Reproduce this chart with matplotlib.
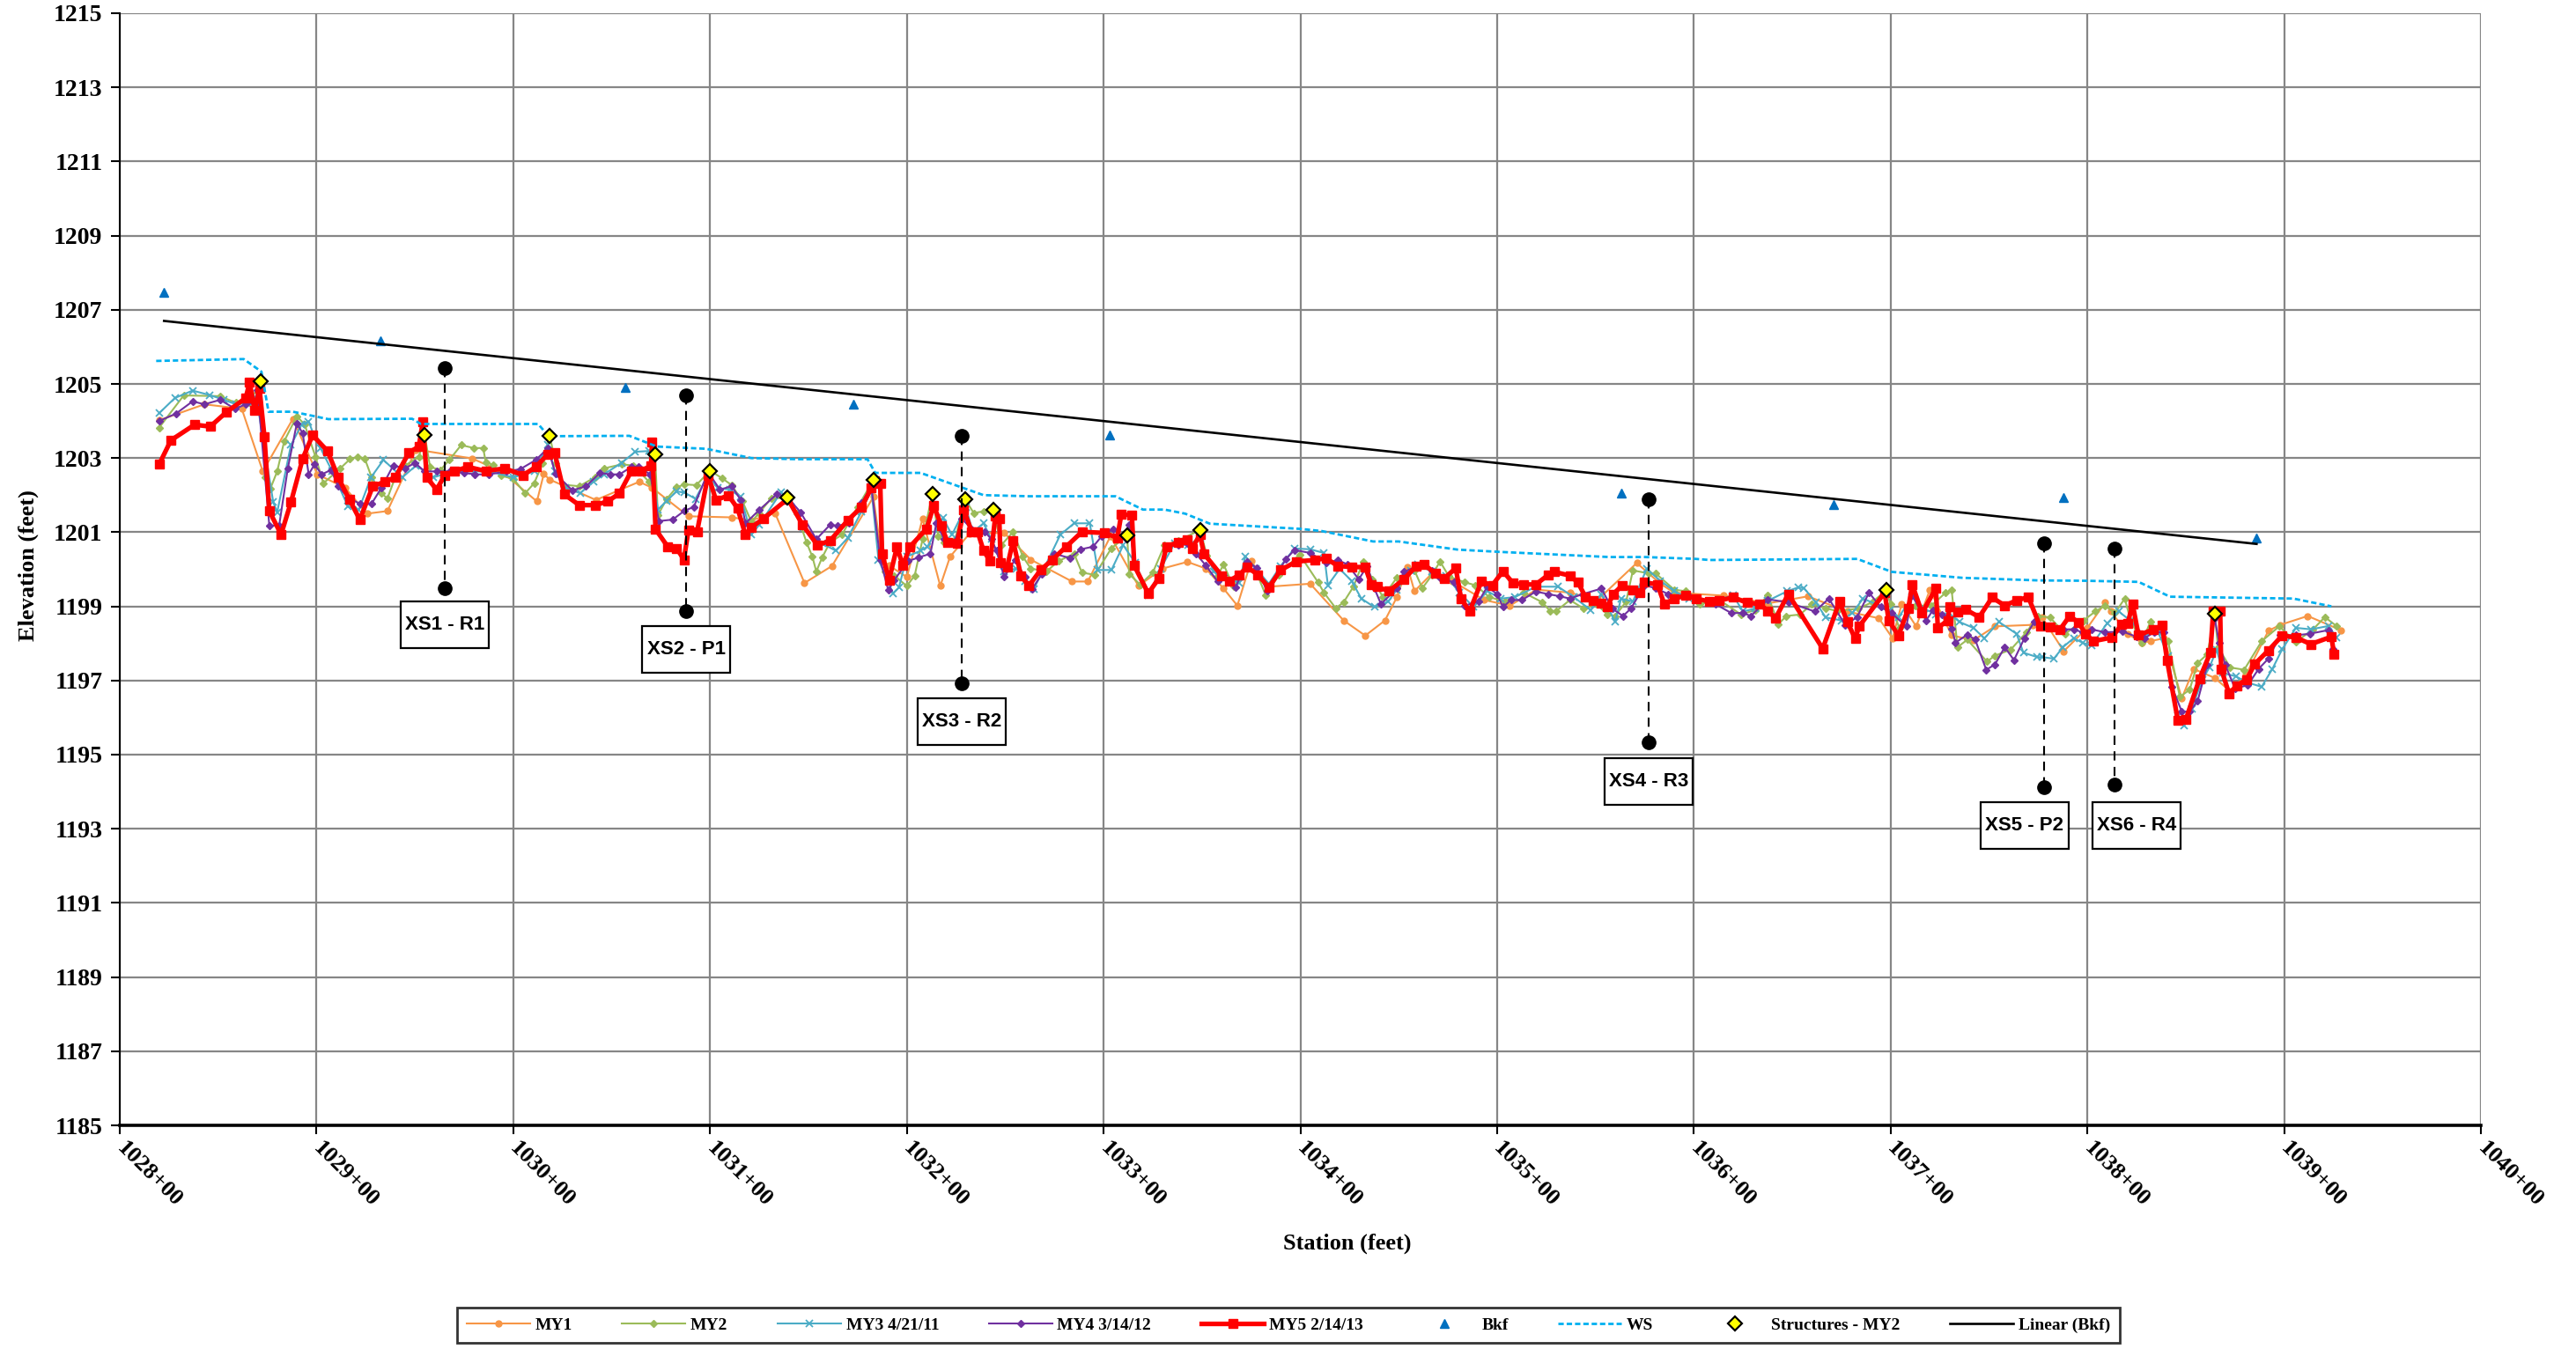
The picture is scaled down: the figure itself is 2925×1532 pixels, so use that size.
import numpy as np
import matplotlib
matplotlib.use("Agg")
import matplotlib.pyplot as plt
from matplotlib import font_manager as fm
from matplotlib.patches import Rectangle
from matplotlib.transforms import ScaledTranslation

# ---------------- survey data (station in feet, elevation in feet) ----------------
my1_sta = [102820, 102843, 102862, 102872.7, 102888, 102900.4, 102914.5, 102925.6, 102936, 102950.6,
           102979, 102994, 103012, 103015.5, 103018.5, 103042, 103064, 103070.5, 103089, 103111,
           103121, 103133, 103148, 103162, 103183, 103187.4, 103191, 103200, 103208, 103217,
           103222, 103232, 103249.5, 103263, 103284, 103292, 103303.5, 103317.7, 103330, 103342.6,
           103352, 103361, 103368, 103375, 103384, 103405, 103422, 103433, 103443, 103449,
           103454.5, 103458, 103467, 103477, 103493.5, 103506.5, 103520, 103537, 103551, 103571,
           103583, 103590, 103615, 103637.6, 103658, 103678, 103694, 103701, 103705.6, 103713,
           103720, 103731, 103742, 103753, 103772, 103777, 103788, 103800, 103809, 103812,
           103820.5, 103827.6, 103832, 103839, 103848, 103854, 103864.7, 103872.6, 103880.6, 103892,
           103898, 103912, 103928.8]
my1_elev = [1204.02, 1204.45, 1204.33, 1202.64, 1204.06, 1202.56, 1202.20, 1201.50, 1201.57, 1203.23,
            1202.99, 1202.64, 1201.83, 1202.57, 1202.42, 1201.87, 1202.36, 1202.20, 1201.43, 1201.40,
            1201.32, 1201.52, 1199.63, 1200.09, 1201.95, 1200.26, 1200.10, 1199.79, 1201.36, 1199.55,
            1200.34, 1200.97, 1200.98, 1200.26, 1199.67, 1199.67, 1200.89, 1199.55, 1200.02, 1200.20,
            1200.02, 1199.48, 1199.02, 1200.22, 1199.53, 1199.61, 1198.62, 1198.21, 1198.62, 1199.24,
            1200.06, 1199.41, 1199.89, 1199.69, 1199.17, 1199.02, 1199.45, 1199.37, 1199.17, 1200.17,
            1199.61, 1199.37, 1199.29, 1199.08, 1199.27, 1198.86, 1198.68, 1198.14, 1199.06, 1198.46,
            1199.45, 1198.22, 1198.08, 1198.46, 1198.50, 1198.70, 1197.79, 1198.42, 1199.10, 1198.86,
            1198.26, 1198.02, 1198.06, 1198.14, 1196.52, 1197.31, 1197.07, 1196.71, 1197.15, 1198.34,
            1198.50, 1198.74, 1198.36]

my2_sta = [102820, 102832.5, 102851, 102859, 102866, 102871.6, 102874, 102876.5, 102880, 102883.6,
           102890, 102894, 102899.5, 102903.5, 102912, 102917, 102921, 102924.5, 102928, 102933,
           102936, 102940, 102945, 102952, 102955, 102957.7, 102963, 102967.5, 102973.5, 102980,
           102984.7, 102986, 102990, 102994, 103000, 103006, 103010.6, 103015, 103018.5, 103021.5,
           103025.6, 103033.5, 103041.5, 103046, 103055, 103061, 103069, 103072, 103073.5, 103078,
           103083, 103087, 103093, 103100, 103106, 103111, 103116.5, 103121, 103125, 103131,
           103139.5, 103144, 103149, 103152, 103154, 103157, 103161, 103167, 103175, 103183,
           103185.6, 103189, 103193.6, 103200, 103204, 103208, 103213, 103216, 103219, 103224.6,
           103229.6, 103234, 103239, 103244, 103248, 103254, 103259, 103263, 103271, 103277,
           103285, 103289, 103295.6, 103304, 103312, 103313, 103318.6, 103325, 103331, 103338,
           103349, 103352.5, 103358, 103361, 103366, 103373, 103378.5, 103382.5, 103389, 103399.6,
           103409, 103412, 103418, 103422, 103427, 103432, 103436.7, 103442, 103449, 103458,
           103462, 103467, 103471, 103475.5, 103483.5, 103489, 103496, 103504, 103513.5, 103523,
           103527, 103530, 103537, 103544, 103550.6, 103556, 103560, 103565.6, 103569, 103577,
           103580.6, 103590, 103595.6, 103603, 103613, 103624, 103631, 103637.6, 103643, 103647,
           103654, 103660, 103667, 103673, 103683.6, 103690.6, 103697.7, 103700, 103704.4, 103712.7,
           103720.7, 103728, 103731, 103734, 103739, 103749, 103753, 103761, 103769, 103775,
           103781, 103788.7, 103798, 103804, 103809, 103814, 103819, 103822, 103827.6, 103832,
           103841, 103847, 103852, 103856, 103861, 103864.7, 103866.4, 103872.6, 103879.7, 103888.6,
           103897.5, 103906, 103914.7, 103920.7, 103926.6]
my2_elev = [1203.82, 1204.69, 1204.67, 1204.49, 1204.49, 1205.08, 1202.48, 1202.17, 1202.64, 1203.46,
            1204.13, 1203.90, 1203.03, 1202.32, 1202.72, 1202.97, 1203.03, 1202.99, 1202.48, 1202.05,
            1201.91, 1202.48, 1202.80, 1203.03, 1203.62, 1202.76, 1202.68, 1202.95, 1203.35, 1203.27,
            1203.27, 1202.89, 1202.81, 1202.52, 1202.44, 1202.05, 1202.32, 1202.87, 1203.60, 1202.87,
            1202.28, 1202.24, 1202.48, 1202.72, 1202.83, 1202.80, 1202.36, 1203.11, 1201.46, 1201.90,
            1202.21, 1202.29, 1202.27, 1202.66, 1202.46, 1202.27, 1201.83, 1201.28, 1201.52, 1201.91,
            1201.93, 1201.52, 1200.73, 1200.34, 1199.94, 1200.32, 1200.73, 1200.93, 1201.68, 1202.40,
            1202.31, 1199.94, 1199.83, 1199.55, 1199.83, 1200.81, 1202.03, 1200.89, 1200.73, 1200.81,
            1201.89, 1201.52, 1201.56, 1201.60, 1200.65, 1201.01, 1200.34, 1200.02, 1199.94, 1200.22,
            1200.42, 1199.91, 1199.85, 1200.57, 1200.91, 1199.87, 1199.59, 1199.91, 1200.65, 1200.77,
            1201.06, 1200.38, 1199.83, 1200.13, 1199.53, 1200.13, 1199.81, 1199.29, 1199.85, 1200.40,
            1199.65, 1199.37, 1198.95, 1199.11, 1199.53, 1200.21, 1199.73, 1199.25, 1199.77, 1199.97,
            1199.49, 1199.85, 1200.21, 1199.81, 1199.65, 1199.57, 1199.25, 1199.13, 1199.37, 1199.11,
            1198.87, 1198.87, 1199.17, 1198.94, 1199.06, 1198.78, 1198.74, 1199.13, 1199.97, 1199.89,
            1199.89, 1199.45, 1199.41, 1199.06, 1199.17, 1198.78, 1198.90, 1199.30, 1198.52, 1198.74,
            1198.78, 1199.06, 1198.95, 1198.87, 1198.94, 1199.11, 1199.43, 1199.06, 1198.42, 1199.02,
            1199.02, 1199.37, 1199.45, 1197.90, 1198.10, 1197.51, 1197.67, 1197.83, 1198.30, 1198.74,
            1198.70, 1198.26, 1198.62, 1198.86, 1199.02, 1198.82, 1199.21, 1198.62, 1198.02, 1198.58,
            1198.06, 1196.56, 1196.75, 1197.47, 1197.71, 1198.80, 1197.90, 1197.35, 1197.29, 1198.06,
            1198.46, 1198.04, 1198.38, 1198.71, 1198.47]

my3_sta = [102820, 102828, 102837, 102845.7, 102853, 102859, 102866, 102869.5, 102878, 102880,
           102887, 102892.4, 102896, 102898.6, 102902, 102908, 102916, 102921.5, 102927.7, 102934,
           102943.6, 102950.6, 102959.4, 102964.7, 102973.5, 102980.6, 102987.7, 103000, 103010.6, 103017.6,
           103021, 103026.5, 103034, 103040.6, 103046, 103055, 103062, 103069, 103073.5, 103078,
           103083, 103087, 103092.6, 103099, 103104, 103110, 103115.6, 103121, 103125, 103136,
           103141, 103147.5, 103157, 103164, 103170, 103177, 103182, 103185.6, 103193, 103196,
           103200, 103207, 103210.5, 103218.4, 103222.9, 103230, 103233.5, 103239, 103243, 103249.5,
           103255.7, 103260, 103264.5, 103269, 103278, 103285, 103293, 103297, 103304, 103310,
           103316, 103323, 103329, 103336, 103343, 103349, 103356, 103361, 103369, 103372,
           103377.6, 103384, 103390, 103397, 103405, 103412, 103414, 103420, 103426, 103431,
           103437.6, 103444.7, 103449, 103456, 103459.7, 103467, 103474, 103481, 103488, 103495,
           103502, 103509, 103519.7, 103531, 103539, 103547.6, 103553, 103560, 103563, 103569,
           103576, 103583, 103590, 103597.5, 103608, 103620, 103625, 103631, 103637.6, 103647.5,
           103653, 103656, 103662, 103667, 103675, 103680.6, 103686, 103699.5, 103704, 103711,
           103717, 103723, 103729.5, 103735, 103742, 103747.7, 103755, 103764, 103767.5, 103774.6,
           103777, 103783, 103787.6, 103793, 103797.5, 103802, 103810, 103816, 103821.7, 103828.8,
           103836, 103841, 103846, 103849, 103853, 103858.5, 103862, 103865.7, 103869, 103875.6,
           103881, 103888.6, 103894, 103899, 103906, 103913.6, 103922.5, 103926.6]
my3_elev = [1204.21, 1204.62, 1204.82, 1204.70, 1204.57, 1204.45, 1204.49, 1204.61, 1201.81, 1201.54,
            1203.35, 1203.90, 1203.99, 1203.62, 1203.27, 1202.64, 1201.69, 1201.61, 1202.48, 1202.95,
            1202.48, 1202.80, 1202.48, 1202.56, 1202.64, 1202.64, 1202.64, 1202.48, 1202.64, 1203.36,
            1202.64, 1202.20, 1202.05, 1202.36, 1202.56, 1202.87, 1203.17, 1203.19, 1201.61, 1201.85,
            1202.10, 1202.07, 1201.90, 1202.54, 1202.19, 1202.15, 1201.95, 1200.93, 1201.20, 1202.07,
            1201.83, 1201.13, 1200.69, 1200.50, 1200.85, 1201.56, 1202.15, 1200.26, 1199.35, 1199.51,
            1200.34, 1200.50, 1200.61, 1201.38, 1200.93, 1201.68, 1201.01, 1201.24, 1200.81, 1199.94,
            1200.02, 1199.67, 1199.47, 1199.94, 1200.93, 1201.24, 1201.24, 1199.98, 1199.98, 1200.65,
            1200.18, 1199.31, 1200.02, 1200.69, 1200.65, 1200.85, 1199.94, 1199.80, 1199.63, 1200.35,
            1200.01, 1199.61, 1200.09, 1200.56, 1200.54, 1200.44, 1199.57, 1200.01, 1199.69, 1199.21,
            1198.98, 1199.13, 1199.45, 1199.97, 1200.13, 1199.93, 1199.81, 1199.37, 1198.98, 1199.41,
            1199.21, 1199.25, 1199.53, 1199.53, 1199.25, 1198.90, 1199.33, 1198.58, 1199.21, 1199.13,
            1200.01, 1199.69, 1199.41, 1199.21, 1199.13, 1199.29, 1198.86, 1198.94, 1199.15, 1199.41,
            1199.51, 1199.49, 1199.11, 1198.70, 1198.62, 1198.82, 1199.21, 1198.90, 1198.70, 1199.25,
            1198.94, 1198.78, 1198.82, 1198.58, 1198.42, 1198.14, 1198.58, 1198.26, 1197.75, 1197.63,
            1197.63, 1197.59, 1197.90, 1198.14, 1198.02, 1197.94, 1198.54, 1198.86, 1198.62, 1198.22,
            1198.30, 1197.67, 1196.04, 1195.78, 1196.24, 1197.03, 1197.35, 1197.83, 1197.20, 1197.11,
            1196.95, 1196.83, 1197.31, 1197.84, 1198.42, 1198.38, 1198.47, 1198.17]

my4_sta = [102820, 102828.6, 102837, 102843, 102851, 102858.6, 102864, 102868.6, 102870, 102876,
           102881, 102885.4, 102890, 102893, 102896, 102899, 102902.6, 102907.4, 102911, 102916,
           102922, 102928, 102933, 102939, 102945, 102950, 102955, 102961, 102968, 102975,
           102980.6, 102987.7, 102996.5, 103003.5, 103011.5, 103017.6, 103021.5, 103030, 103037, 103044,
           103049.4, 103054, 103060, 103063.5, 103069.6, 103074, 103081, 103087, 103091.7, 103099,
           103105, 103111, 103115.6, 103118, 103125, 103134, 103139.5, 103146, 103154, 103161,
           103165, 103170.6, 103177, 103182, 103186.5, 103190.6, 103193.6, 103200.7, 103206, 103212,
           103215, 103219, 103224.6, 103228, 103233, 103239.7, 103243, 103245.6, 103249.5, 103255,
           103260, 103263.6, 103268.6, 103275, 103283, 103288.5, 103294.7, 103299, 103305, 103311.5,
           103313, 103316, 103323, 103328, 103332.6, 103338, 103342.6, 103347, 103352, 103358,
           103361, 103367, 103373, 103378, 103383, 103392.6, 103397, 103405, 103413.4, 103419,
           103424, 103429.7, 103434, 103437.6, 103441, 103449, 103452.6, 103459.7, 103467, 103471,
           103478, 103483.5, 103490.6, 103495, 103500, 103503, 103507, 103512.6, 103519.7, 103526,
           103532, 103537, 103543.5, 103553, 103558.5, 103564, 103568, 103575, 103580.6, 103587,
           103590, 103597, 103602.6, 103611, 103619, 103625, 103629, 103637.6, 103648, 103661.5,
           103668.6, 103677, 103683, 103689, 103695, 103700.4, 103708, 103711, 103718, 103721.6,
           103726, 103731, 103733, 103739, 103743, 103748.6, 103753, 103758, 103762.7, 103768,
           103773, 103781, 103788, 103793, 103797.5, 103802, 103809, 103818, 103825, 103829,
           103834, 103839, 103843, 103848, 103852, 103856, 103861, 103864.7, 103867, 103870,
           103875, 103881.5, 103887, 103892, 103898, 103906, 103913, 103922.5, 103925]
my4_elev = [1204.00, 1204.20, 1204.53, 1204.45, 1204.57, 1204.33, 1204.45, 1204.49, 1204.84, 1201.18,
            1201.18, 1202.72, 1203.94, 1203.66, 1202.56, 1202.83, 1202.56, 1202.68, 1202.24, 1201.93,
            1201.77, 1201.77, 1202.20, 1202.80, 1202.72, 1202.87, 1202.64, 1202.64, 1202.64, 1202.60,
            1202.56, 1202.56, 1202.64, 1202.70, 1202.95, 1203.27, 1202.57, 1202.13, 1202.24, 1202.60,
            1202.56, 1202.56, 1202.76, 1202.76, 1202.56, 1201.30, 1201.34, 1201.58, 1201.68, 1202.62,
            1202.15, 1202.24, 1201.87, 1201.24, 1201.60, 1202.03, 1201.93, 1201.54, 1200.81, 1201.20,
            1201.17, 1201.24, 1201.80, 1202.23, 1200.26, 1199.43, 1199.71, 1200.22, 1200.32, 1200.42,
            1201.24, 1200.81, 1200.77, 1201.36, 1201.09, 1201.01, 1200.81, 1200.50, 1199.79, 1200.26,
            1199.79, 1199.46, 1199.87, 1200.42, 1200.30, 1200.54, 1200.61, 1200.89, 1201.09, 1200.81,
            1201.20, 1200.10, 1199.39, 1199.79, 1200.61, 1200.65, 1200.69, 1200.42, 1200.10, 1199.67,
            1199.85, 1199.51, 1200.21, 1200.03, 1199.41, 1200.27, 1200.52, 1200.44, 1200.17, 1200.25,
            1200.13, 1199.73, 1200.09, 1199.49, 1199.06, 1199.48, 1199.93, 1200.09, 1199.97, 1199.77,
            1199.65, 1199.02, 1199.13, 1199.53, 1199.33, 1198.98, 1199.17, 1199.17, 1199.40, 1199.33,
            1199.27, 1199.21, 1199.33, 1199.48, 1198.94, 1198.74, 1198.94, 1199.57, 1199.49, 1199.33,
            1199.17, 1199.29, 1199.17, 1199.06, 1198.82, 1198.82, 1198.74, 1199.19, 1199.11, 1198.86,
            1199.21, 1198.50, 1198.71, 1199.37, 1198.98, 1198.82, 1198.46, 1199.29, 1198.62, 1198.90,
            1198.78, 1198.40, 1198.02, 1198.24, 1198.10, 1197.29, 1197.43, 1197.90, 1197.55, 1198.14,
            1198.58, 1198.42, 1198.38, 1198.38, 1198.30, 1198.38, 1198.30, 1198.32, 1198.18, 1198.14,
            1198.30, 1198.30, 1196.83, 1196.16, 1196.16, 1196.44, 1197.43, 1198.68, 1198.02, 1197.43,
            1196.79, 1196.87, 1197.31, 1197.59, 1198.22, 1198.22, 1198.26, 1198.36, 1197.84]

my5_sta = [102820, 102826, 102838, 102846, 102854, 102864, 102866, 102868.6, 102871, 102873.5,
           102876, 102882, 102887, 102893, 102898, 102905.6, 102911, 102916.6, 102922, 102928.6,
           102934.7, 102940, 102947, 102952, 102954, 102956, 102961, 102965, 102970, 102977,
           102986, 102995.6, 103005, 103011.5, 103017.6, 103021, 103026, 103033.5, 103041.5, 103048,
           103054, 103060, 103065, 103070, 103070.5, 103072.3, 103078.5, 103083, 103086.7, 103089,
           103093.4, 103099, 103103, 103109.4, 103114, 103118, 103121, 103127, 103139.5, 103147,
           103154.6, 103161, 103170, 103177, 103182, 103183.5, 103186.5, 103187.4, 103191, 103195,
           103198, 103201.6, 103210, 103213.7, 103217.6, 103220.7, 103225.5, 103229, 103233, 103236,
           103239, 103242.4, 103245, 103247, 103247.7, 103251, 103254, 103258, 103262, 103268,
           103274, 103281, 103289, 103300.5, 103307, 103309, 103314.4, 103315.6, 103322.7, 103328,
           103332, 103338, 103342.6, 103345, 103349, 103351, 103360, 103364, 103369, 103373,
           103378.5, 103384, 103390, 103398, 103407.6, 103413, 103419, 103426, 103433, 103436,
           103439, 103445, 103452.6, 103459, 103463, 103468.5, 103473, 103479, 103481.7, 103486,
           103492, 103497.6, 103503, 103508, 103513.5, 103519.7, 103526, 103529, 103537, 103541,
           103545, 103549, 103553, 103556, 103559, 103563.5, 103569, 103572.7, 103575, 103581.5,
           103585, 103590, 103595.6, 103601, 103608, 103613, 103620, 103627, 103633.5, 103637.6,
           103641.5, 103648, 103665.5, 103674, 103678, 103682, 103684, 103697, 103699, 103704,
           103709, 103711, 103716, 103723, 103724, 103729, 103730, 103734, 103738, 103745,
           103751.6, 103758, 103764, 103770, 103776, 103781, 103786, 103791, 103795.6, 103799,
           103803, 103812.5, 103817.5, 103820.5, 103823, 103826, 103833.6, 103838, 103840.5, 103846,
           103850, 103857, 103862.5, 103864, 103867.5, 103868, 103872, 103876, 103881, 103885,
           103892, 103899, 103906, 103913.6, 103924, 103925.4]
my5_elev = [1202.83, 1203.48, 1203.90, 1203.85, 1204.23, 1204.62, 1205.04, 1204.29, 1204.88, 1203.58,
            1201.57, 1200.94, 1201.81, 1202.99, 1203.62, 1203.19, 1202.48, 1201.89, 1201.34, 1202.24,
            1202.36, 1202.48, 1203.15, 1203.31, 1203.98, 1202.48, 1202.15, 1202.52, 1202.65, 1202.76,
            1202.65, 1202.72, 1202.54, 1202.76, 1203.11, 1203.15, 1202.02, 1201.73, 1201.73, 1201.83,
            1202.05, 1202.65, 1202.65, 1202.80, 1203.43, 1201.08, 1200.61, 1200.57, 1200.26, 1201.05,
            1201.01, 1202.54, 1201.87, 1201.99, 1201.64, 1200.93, 1201.13, 1201.36, 1201.90, 1201.20,
            1200.65, 1200.77, 1201.32, 1201.68, 1202.19, 1202.39, 1202.31, 1200.42, 1199.71, 1200.61,
            1200.10, 1200.61, 1201.09, 1201.72, 1201.17, 1200.73, 1200.69, 1201.60, 1201.01, 1201.01,
            1200.50, 1200.22, 1201.44, 1201.36, 1200.18, 1200.06, 1200.77, 1199.83, 1199.55, 1199.98,
            1200.26, 1200.61, 1201.01, 1200.98, 1200.85, 1201.48, 1201.46, 1200.10, 1199.35, 1199.75,
            1200.61, 1200.73, 1200.80, 1200.57, 1200.93, 1200.42, 1199.83, 1199.69, 1199.85, 1200.06,
            1199.85, 1199.51, 1199.98, 1200.21, 1200.25, 1200.30, 1200.09, 1200.06, 1200.06, 1199.59,
            1199.53, 1199.41, 1199.73, 1200.09, 1200.13, 1199.89, 1199.75, 1200.03, 1199.21, 1198.86,
            1199.67, 1199.57, 1199.95, 1199.63, 1199.59, 1199.59, 1199.85, 1199.93, 1199.83, 1199.65,
            1199.25, 1199.16, 1199.08, 1198.98, 1199.33, 1199.56, 1199.45, 1199.37, 1199.65, 1199.59,
            1199.06, 1199.21, 1199.29, 1199.21, 1199.13, 1199.16, 1199.24, 1199.10, 1199.06, 1198.88,
            1198.68, 1199.33, 1197.86, 1199.13, 1198.58, 1198.13, 1198.46, 1199.37, 1198.62, 1198.21,
            1198.94, 1199.59, 1198.82, 1199.49, 1198.42, 1198.62, 1198.98, 1198.84, 1198.92, 1198.71,
            1199.24, 1199.02, 1199.16, 1199.25, 1198.46, 1198.44, 1198.37, 1198.74, 1198.56, 1198.26,
            1198.06, 1198.16, 1198.52, 1198.54, 1199.06, 1198.22, 1198.38, 1198.48, 1197.55, 1195.92,
            1195.94, 1197.05, 1197.75, 1198.87, 1198.87, 1197.31, 1196.65, 1196.86, 1197.03, 1197.44,
            1197.81, 1198.21, 1198.16, 1197.98, 1198.18, 1197.71]

# bankfull elevations
bkf_sta = [102822.5, 102932.5, 103057, 103173, 103303, 103563, 103671, 103788, 103886]
bkf_elev = [1207.47, 1206.16, 1204.91, 1204.45, 1203.62, 1202.05, 1201.75, 1201.93, 1200.84]

# water surface
ws_sta = [102818.5, 102863, 102872, 102875.6, 102888, 102906, 102948.6, 102953, 103012.6, 103018,
          103059, 103073, 103098, 103121, 103144, 103180, 103184, 103207, 103239, 103262,
          103306, 103320, 103331, 103341.5, 103354, 103400, 103411, 103437, 103450, 103480,
          103501, 103557, 103575, 103601, 103608, 103683, 103700.6, 103736.5, 103775, 103799,
          103826, 103842, 103904.7, 103924]
ws_elev = [1205.62, 1205.67, 1205.33, 1204.25, 1204.25, 1204.05, 1204.06, 1203.92, 1203.92, 1203.59,
           1203.60, 1203.31, 1203.25, 1203.00, 1202.97, 1202.97, 1202.60, 1202.60, 1202.00, 1201.97,
           1201.97, 1201.61, 1201.61, 1201.50, 1201.23, 1201.09, 1201.03, 1200.75, 1200.75, 1200.53,
           1200.47, 1200.33, 1200.33, 1200.28, 1200.25, 1200.28, 1199.93, 1199.77, 1199.70, 1199.69,
           1199.66, 1199.26, 1199.21, 1199.00]

# in-stream structures (MY2 survey)
struct_sta = [102871.6, 102955, 103018.5, 103072, 103100, 103139.5, 103183, 103213, 103229.6, 103244,
              103312, 103349, 103697.7, 103864.7]
struct_elev = [1205.08, 1203.62, 1203.60, 1203.11, 1202.66, 1201.93, 1202.40, 1202.03, 1201.89, 1201.60,
               1200.91, 1201.06, 1199.43, 1198.80]

# cross-section locations
xs_labels = ["XS1 - R1", "XS2 - P1", "XS3 - R2", "XS4 - R3", "XS5 - P2", "XS6 - R4"]
xs_sta = [102965, 103088, 103228, 103577, 103778, 103814]
xs_top = [1205.43, 1204.68, 1203.61, 1201.89, 1200.69, 1200.56]
xs_bot = [1199.49, 1198.87, 1196.92, 1195.33, 1194.13, 1194.20]
xs_label_sta = [102965, 103088, 103228, 103577, 103768, 103825]
xs_label_elev = [1198.50, 1197.85, 1195.90, 1194.27, 1193.08, 1193.08]

# ---------------- styling ----------------
serif = "Liberation Serif"
names = {f.name for f in fm.fontManager.ttflist}
if "Liberation Sans Narrow" in names:
    box_family, box_size = "Liberation Sans Narrow", 19
else:
    box_family, box_size = "Liberation Sans", 16

plt.rcParams["font.family"] = serif
plt.rcParams["font.weight"] = "bold"

fig = plt.figure(figsize=(29.25, 15.32), dpi=100)
ax = fig.add_axes([136 / 2925, 1 - 1278 / 1532, (2817 - 136) / 2925, (1278 - 15) / 1532])

grid_c = "#868686"
ax.set_axisbelow(True)
ax.grid(True, color=grid_c, lw=1.6)

ax.plot(my1_sta, my1_elev, color="#F79646", lw=1.5, marker="o", ms=5, label="MY1", zorder=3)
ax.plot(my2_sta, my2_elev, color="#9BBB59", lw=1.5, marker="D", ms=4.5, label="MY2", zorder=3)
ax.plot(my3_sta, my3_elev, color="#4BACC6", lw=1.5, marker="x", ms=5.5, mew=1.3,
        label="MY3 4/21/11", zorder=3)
ax.plot(my4_sta, my4_elev, color="#7030A0", lw=1.5, marker="D", ms=4.5, label="MY4 3/14/12", zorder=3)
ax.plot(my5_sta, my5_elev, color="#FF0000", lw=3.8, marker="s", ms=7, label="MY5 2/14/13", zorder=4)
ax.plot(bkf_sta, bkf_elev, ls="none", marker="^", ms=7.5, color="#0070C0", label="Bkf", zorder=5)
ax.plot(ws_sta, ws_elev, color="#00B0F0", lw=2.0, ls=(0, (2.2, 1.2)), label="WS", zorder=5)
ax.plot(struct_sta, struct_elev, ls="none", marker="D", ms=8, mfc="#FFFF00", mec="black",
        mew=1.6, label="Structures - MY2", zorder=6)

# linear trend of the bankfull points
coef = np.polyfit(bkf_sta, bkf_elev, 1)
tx = np.array([min(bkf_sta), max(bkf_sta)])
ax.plot(tx, np.polyval(coef, tx), color="black", lw=1.9, label="Linear (Bkf)", zorder=5)

# cross-section markers: dashed stem between two dots, label in a boxed tag
for lab, xs, yt, yb, lx, ly in zip(xs_labels, xs_sta, xs_top, xs_bot, xs_label_sta, xs_label_elev):
    ax.plot([xs, xs], [yt, yb], color="black", lw=1.5, ls=(0, (5, 3.5)), zorder=7)
    ax.plot([xs, xs], [yt, yb], ls="none", marker="o", ms=11, color="black", zorder=8)
    box_tr = fig.dpi_scale_trans + ScaledTranslation(lx, ly, ax.transData)
    ax.add_patch(Rectangle((-0.5, -0.265), 1.0, 0.53, transform=box_tr, fc="white", ec="black",
                           lw=1.6, zorder=9, clip_on=False))
    ax.text(lx, ly, lab, ha="center", va="center", family=[box_family, "DejaVu Sans"],
            fontsize=box_size, fontweight="bold", zorder=10)

ax.set_xlim(102800, 104000)
ax.set_ylim(1185, 1215)
xt = np.arange(102800, 104001, 100)
ax.set_xticks(xt)
ax.set_xticklabels([f"{int(v // 100)}+00" for v in xt], rotation=-45, ha="left", va="center",
                   rotation_mode="anchor")
ax.set_yticks(np.arange(1185, 1216, 2))
ax.tick_params(axis="both", direction="out", length=7, width=1.5, color="black", labelsize=20)
ax.tick_params(axis="x", pad=9, labelsize=19)
ax.tick_params(axis="y", pad=7)
for t in ax.get_xticklabels() + ax.get_yticklabels():
    t.set_fontweight("bold")

ax.spines["top"].set_visible(False)
ax.spines["right"].set_visible(False)
ax.spines["left"].set_linewidth(1.5)
ax.spines["bottom"].set_linewidth(2.6)

fig.text(1530 / 2925, 1 - 1412 / 1532, "Station (feet)", ha="center", va="center",
         fontsize=19, fontweight="bold")
fig.text(32 / 2925, 1 - 642 / 1532, "Elevation (feet)", ha="center", va="center",
         rotation=90, fontsize=19, fontweight="bold")

handles, labels = ax.get_legend_handles_labels()
leg = fig.legend(handles, labels, loc="center", bbox_to_anchor=(1463 / 2925, 1 - 1505 / 1532),
                 ncol=9, frameon=True, fancybox=False, edgecolor="black", fontsize=14,
                 handlelength=3.7, columnspacing=2.9, handletextpad=0.3, borderpad=0.55)
leg.get_frame().set_linewidth(2.0)
for t in leg.get_texts():
    t.set_fontweight("bold")

fig.savefig("out.png", dpi=100)
